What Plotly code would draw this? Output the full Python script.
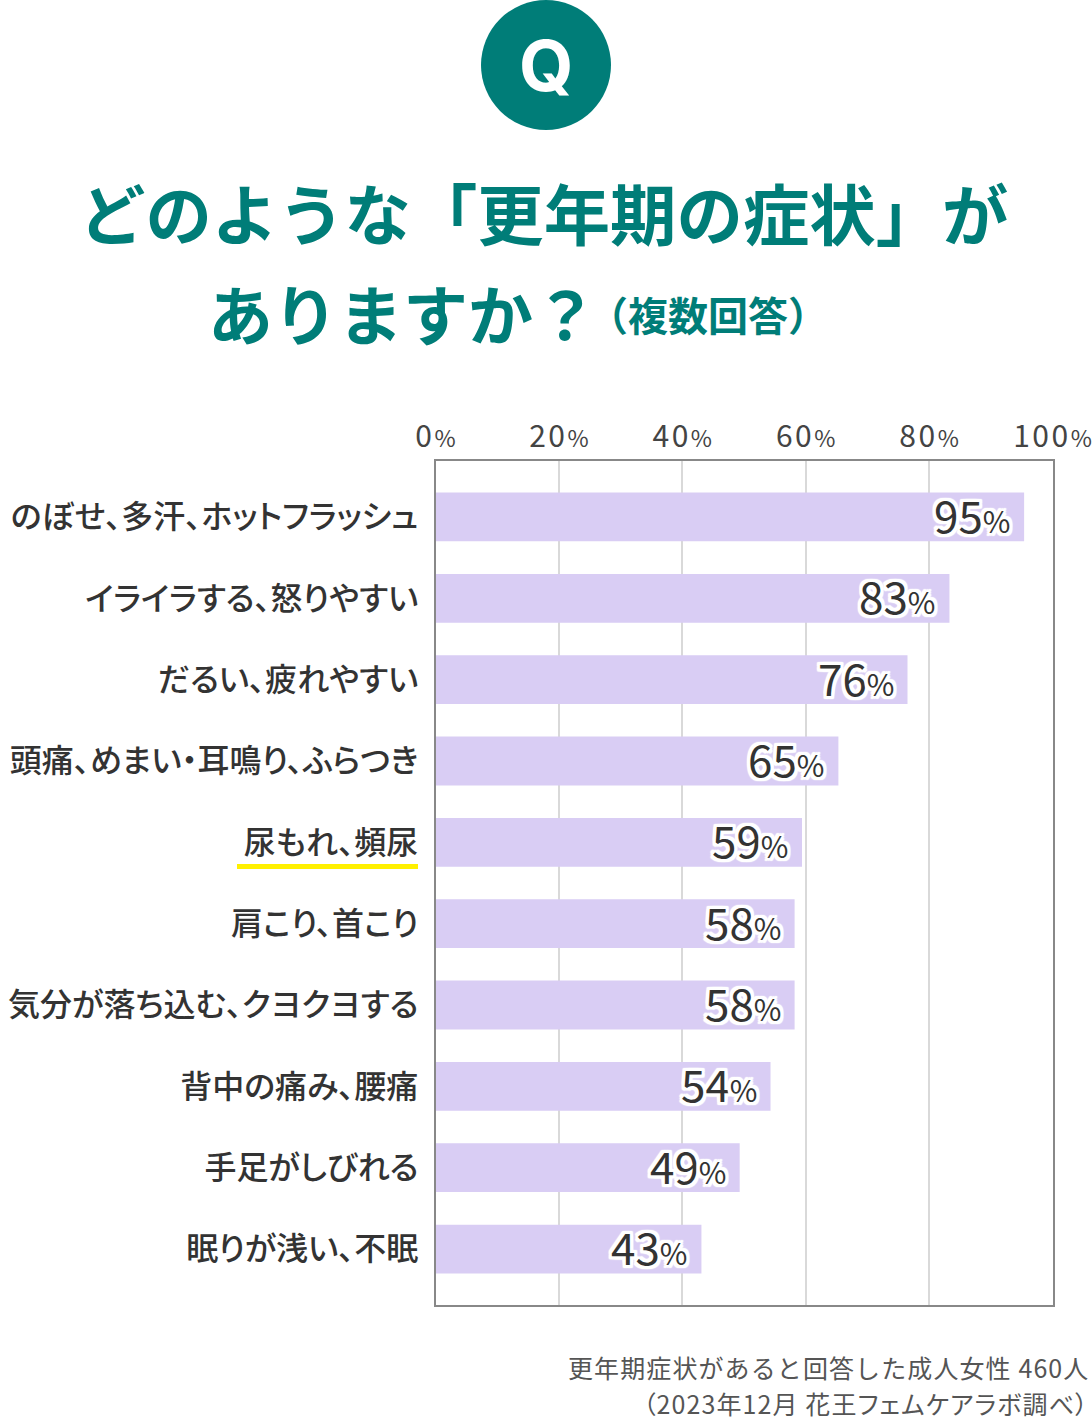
import plotly.graph_objects as go

W, H = 1092, 1421
categories = ["のぼせ、多汗、ホットフラッシュ", "イライラする、怒りやすい", "だるい、疲れやすい",
              "頭痛、めまい・耳鳴り、ふらつき", "尿もれ、頻尿", "肩こり、首こり",
              "気分が落ち込む、クヨクヨする", "背中の痛み、腰痛", "手足がしびれる", "眠りが浅い、不眠"]
values = [95.4, 83.3, 76.5, 65.3, 59.4, 58.2, 58.2, 54.3, 49.3, 43.1]
value_labels = ["95", "83", "76", "65", "59", "58", "58", "54", "49", "43"]
x_ticks = [0, 20, 40, 60, 80, 100]
title_lines = ["どのような「更年期の症状」が", "ありますか？"]
title_note = "（複数回答）"
source_lines = ["更年期症状があると回答した成人女性 460人", "（2023年12月 花王フェムケアラボ調べ）"]

JP = "Noto Sans CJK JP"
TEAL = "#007d78"
DARK = "#333333"
halo = ",".join(f"{a}px {b}px 1px white" for a in (-3, -2, 0, 2, 3) for b in (-3, -2, 0, 2, 3))


def px(v):
    return v / W


def py(v):
    return 1 - v / H


def spaced(s, n, extra=""):
    return f'<span style="letter-spacing:{n}px;{extra}">{s}</span>'


fig = go.Figure(go.Bar(x=values, y=categories, orientation="h", width=0.6,
                       marker=dict(color="#d9cdf4", line_width=0), hoverinfo="skip"))

ann = []
for c, v, l in zip(categories, values, value_labels):
    ann.append(dict(x=v, y=c, xref="x", yref="y", xanchor="right", yanchor="middle", xshift=-12, yshift=3,
                    text=f'{l}<span style="font-size:30px">%</span>', showarrow=False,
                    font=dict(family=JP, size=44, color=DARK, shadow=halo, weight=400)))

ann += [
    dict(x=px(546), y=py(66), text="<b>Q</b>", font=dict(family="Inter", size=70, color="white", weight=800)),
    dict(x=px(543), y=py(211), text=f"<b>{title_lines[0]}</b>", font=dict(family=JP, size=66.4, color=TEAL)),
    dict(x=px(403), y=py(312), text=f"<b>{title_lines[1]}</b>", font=dict(family=JP, size=65, color=TEAL)),
    dict(x=px(708), y=py(314), text=f"<b>{title_note}</b>", font=dict(family=JP, size=40, color=TEAL)),
    dict(x=px(1091), y=py(1367), xanchor="right", text=spaced(source_lines[0], 1.1),
         font=dict(family=JP, size=25, color="#555555")),
    dict(x=px(1091), y=py(1403), xanchor="right",
         text=spaced(source_lines[1], 1.1, "font-feature-settings:'palt' 1"),
         font=dict(family=JP, size=25, color="#555555")),
]
for a in ann[-6:]:
    a.update(xref="paper", yref="paper", showarrow=False)
    a.setdefault("xanchor", "center")
    a["yanchor"] = "middle"

shapes = [
    dict(type="circle", xref="paper", yref="paper", x0=px(481), x1=px(611), y0=py(130), y1=py(0),
         fillcolor=TEAL, line_width=0, layer="below"),
    dict(type="rect", xref="paper", yref="paper", x0=px(237), x1=px(418), y0=py(869), y1=py(864),
         fillcolor="#fff000", line_width=0),
]

fig.update_layout(
    width=W, height=H, margin=dict(l=0, r=0, t=0, b=0), paper_bgcolor="white", plot_bgcolor="white",
    showlegend=False, annotations=ann, shapes=shapes,
    xaxis=dict(domain=[px(435.5), px(1052.5)], range=[0, 100], side="top", tickvals=x_ticks,
               ticktext=[spaced(t, 2.5) + '<span style="font-size:23px">%</span>' for t in x_ticks],
               tickfont=dict(family=JP, size=30, color="#444444"), ticks="", showgrid=True, gridcolor="#d9d9d9",
               gridwidth=1.5, showline=True, linecolor="#888888", linewidth=1.5, mirror=True, zeroline=False,
               automargin=False),
    yaxis=dict(domain=[py(1305), py(461)], range=[9.688, -0.688], categoryorder="array", categoryarray=categories,
               tickfont=dict(family=JP, size=32, color=DARK, weight=500), ticks="", ticklabelstandoff=9,
               showgrid=False, showline=True, linecolor="#888888", linewidth=1.5, mirror=True, zeroline=False,
               automargin=False),
)
post = """
document.body.style.margin='0';document.body.style.overflow='hidden';
var st=document.createElement('style');
st.textContent=".ytick text{font-feature-settings:'palt' 1;}";
document.head.appendChild(st);
"""
fig.write_html("out.html", post_script=post, config={"displayModeBar": False})
